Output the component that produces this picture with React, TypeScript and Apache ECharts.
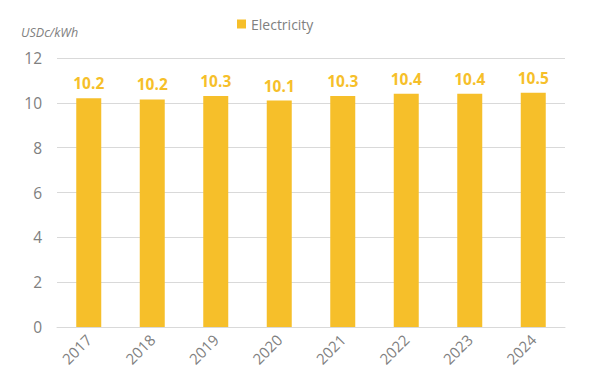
import React, { useEffect, useRef } from "react";
import * as echarts from "echarts";

const years = ["2017", "2018", "2019", "2020", "2021", "2022", "2023", "2024"];
const electricity = [10.2, 10.15, 10.3, 10.1, 10.3, 10.4, 10.4, 10.45];
const valueLabels = ["10.2", "10.2", "10.3", "10.1", "10.3", "10.4", "10.4", "10.5"];
const yTicks = { min: 0, max: 12, interval: 2 };

export default function App() {
  const ref = useRef<HTMLDivElement>(null);
  useEffect(() => {
    const chart = echarts.init(ref.current!, null, { renderer: "svg" });
    chart.setOption({
      animation: false,
      backgroundColor: "#ffffff",
      textStyle: { fontFamily: "'Open Sans', sans-serif" },
      legend: {
        data: ["Electricity"],
        top: 12,
        left: 232,
        itemWidth: 9,
        itemHeight: 9,
        itemGap: 6,
        icon: "rect",
        textStyle: { color: "#808080", fontSize: 14, fontFamily: "'Open Sans', sans-serif" },
      },
      grid: { left: 57, right: 27, top: 58, bottom: 57 },
      xAxis: {
        type: "category",
        data: years,
        axisLine: { lineStyle: { color: "#d9d9d9" } },
        axisTick: { show: false },
        axisLabel: { color: "#808080", fontSize: 15, rotate: 45, margin: 10 },
      },
      yAxis: {
        type: "value",
        ...yTicks,
        name: "USDc/kWh",
        nameLocation: "end",
        nameGap: 19,
        nameTextStyle: {
          color: "#808080",
          fontStyle: "italic",
          fontSize: 12.5,
          align: "left",
          padding: [0, 0, 0, -36],
        },
        axisLine: { show: false },
        axisTick: { show: false },
        axisLabel: { color: "#808080", fontSize: 15.5, margin: 15 },
        splitLine: { lineStyle: { color: "#d9d9d9" } },
      },
      series: [
        {
          name: "Electricity",
          type: "bar",
          data: electricity,
          barWidth: 25,
          itemStyle: { color: "#F6BF2A" },
          label: {
            show: true,
            position: "top",
            distance: 7,
            color: "#F6BF2A",
            fontSize: 15.5,
            fontWeight: "bold",
            fontFamily: "'Open Sans', sans-serif",
            formatter: (p: any) => valueLabels[p.dataIndex],
          },
        },
      ],
    });
    return () => chart.dispose();
  }, []);
  return (
    <div
      ref={ref}
      style={{ position: "fixed", left: 0, top: 0, width: 592, height: 384 }}
    />
  );
}
